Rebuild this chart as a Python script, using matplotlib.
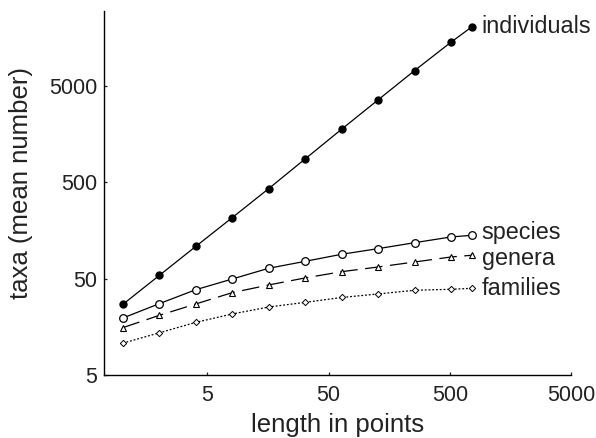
import numpy as np
import matplotlib
matplotlib.use("Agg")
import matplotlib.pyplot as plt

plt.rcParams['font.family'] = ['Liberation Sans', 'DejaVu Sans']

# sample length (points) and mean number of taxa
length = [1, 2, 4, 8, 16, 32, 64, 128, 256, 512, 760]
individuals = [27, 54, 108, 215, 430, 875, 1780, 3590, 7230, 14260, 20550]
species = [19.5, 27.5, 38.4, 49.6, 64.1, 75.7, 89.6, 102.5, 118.2, 135.5, 141]
genera = [15.5, 20.8, 27.3, 35.8, 43.0, 50.9, 59.1, 66.1, 74.5, 84.0, 87.5]
families = [10.7, 13.7, 17.6, 21.5, 25.4, 28.4, 31.9, 34.7, 37.9, 38.8, 39.7]

x_ticks = [5, 50, 500, 5000]
y_ticks = [5, 50, 500, 5000]

fig = plt.figure(figsize=(5.96, 4.38), dpi=100)
ax = fig.add_axes([0.1745, 0.1438, 0.7835, 0.831])

ax.plot(length, individuals, '-', color='black', lw=0.9, marker='o', ms=5,
        mfc='black', mec='black')
ax.plot(length, species, '-', color='black', lw=0.9, marker='o', ms=5.5,
        mfc='white', mec='black', mew=0.9)
ax.plot(length, genera, color='black', lw=0.9, ls=(0, (14, 6)), marker='^', ms=4.5,
        mfc='white', mec='black', mew=0.8)
ax.plot(length, families, color='black', lw=0.9, ls=(0, (1.5, 1.5)), marker='D', ms=3.2,
        mfc='white', mec='black', mew=0.7)

# series names written next to the last point
labels = [('individuals', individuals, 0), ('species', species, 2),
          ('genera', genera, -2.5), ('families', families, 0)]
for name, vals, dy in labels:
    ax.annotate(name, (length[-1], vals[-1]), xytext=(7, dy), textcoords='offset points',
                ha='left', va='center', fontsize=16.8, color='#222222')

ax.set_xscale('log')
ax.set_yscale('log')
ax.set_xlim(0.7, 5000)
ax.set_ylim(5, 30000)
ax.set_xticks(x_ticks)
ax.set_xticklabels([str(t) for t in x_ticks])
ax.set_yticks(y_ticks)
ax.set_yticklabels([str(t) for t in y_ticks])
ax.minorticks_off()
ax.tick_params(direction='in', length=2.5, width=0.9, labelsize=15.5, colors='#222222')
ax.tick_params(axis='y', pad=5)
ax.tick_params(axis='x', pad=7)

for s in ['top', 'right']:
    ax.spines[s].set_visible(False)
for s in ['left', 'bottom']:
    ax.spines[s].set_linewidth(1.0)

ax.set_xlabel('length in points', fontsize=18.5, labelpad=5, color='#222222')
ax.set_ylabel('taxa (mean number)', fontsize=18.5, color='#222222')
ax.yaxis.set_label_coords(-0.152, 0.527)

fig.savefig('out.png', dpi=100)
